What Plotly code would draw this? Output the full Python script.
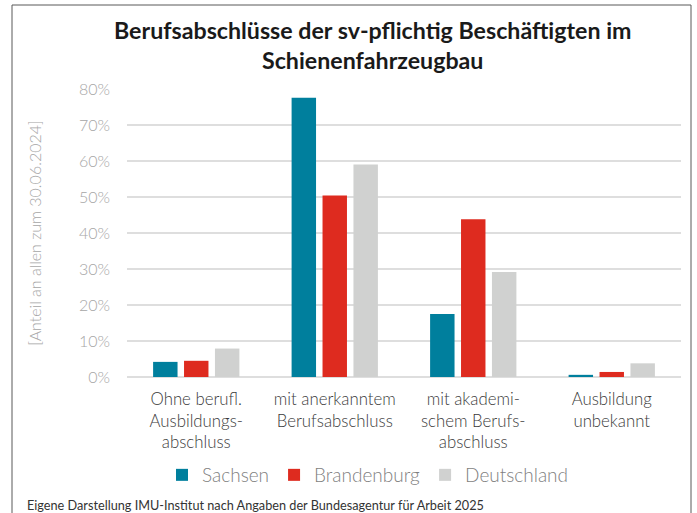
import plotly.graph_objects as go

categories = ["Ohne berufl.<br>Ausbildungs-<br>abschluss",
              "mit anerkanntem<br>Berufsabschluss",
              "mit akademi-<br>schem Berufs-<br>abschluss",
              "Ausbildung<br>unbekannt"]
sachsen = [4.2, 77.6, 17.5, 0.6]
brandenburg = [4.5, 50.4, 43.8, 1.4]
deutschland = [7.9, 59.0, 29.2, 3.8]
series_names = ["Sachsen", "Brandenburg", "Deutschland"]
series_colors = ["#007F9D", "#DE2B1F", "#D0D1D0"]
y_ticks = [0, 10, 20, 30, 40, 50, 60, 70, 80]
y_tick_labels = ["0%", "10%", "20%", "30%", "40%", "50%", "60%", "70%", "80%"]

FONT = "Lato"
fig = go.Figure()
for name, vals, col in zip(series_names, [sachsen, brandenburg, deutschland], series_colors):
    fig.add_trace(go.Bar(x=categories, y=vals, name=name,
                         marker=dict(color=col, line=dict(width=0))))

W, H = 697, 513
L, R, T, B = 127, 681, 89, 377
pw, ph = R - L, B - T

def px(x):
    return (x - L) / pw

def py(y):
    return (B - y) / ph

fig.update_layout(
    width=W, height=H,
    margin=dict(l=L, r=W - R, t=T, b=H - B, pad=0, autoexpand=False),
    paper_bgcolor="white", plot_bgcolor="white",
    barmode="group", bargap=0.33, bargroupgap=0.21,
    font=dict(family=FONT),
    xaxis=dict(tickfont=dict(size=16.8, color="#3a3a3a", family=FONT, weight=300),
               showgrid=False, showline=False, ticks="", ticklabelstandoff=10),
    yaxis=dict(range=[0, 80], tickvals=y_ticks, ticktext=y_tick_labels,
               tickfont=dict(size=16, color="#a6a6a6", family=FONT, weight=300),
               showgrid=True, gridcolor="#dedede", gridwidth=2,
               zeroline=True, zerolinecolor="#dedede", zerolinewidth=2,
               ticks="", ticklabelstandoff=16,
               title=dict(text="[Anteil an allen zum 30.06.2024]",
                          font=dict(size=16, color="#a6a6a6", family=FONT, weight=300),
                          standoff=33)),
    legend=dict(orientation="h", x=px(368), xanchor="center", y=py(475), yanchor="middle",
                font=dict(size=19, color="#7f7f7f", family=FONT, weight=300),
                itemwidth=30, traceorder="normal"),
    shapes=[dict(type="rect", xref="paper", yref="paper",
                 x0=px(12), x1=px(691), y0=py(525), y1=py(5),
                 line=dict(color="#595959", width=1), fillcolor="rgba(0,0,0,0)", layer="below")],
    annotations=[
        dict(text="<b>Berufsabschlüsse der sv-pflichtig Beschäftigten im<br>Schienenfahrzeugbau</b>",
             xref="paper", yref="paper", x=px(372), y=py(45), xanchor="center", yanchor="middle",
             showarrow=False, font=dict(size=23.2, color="#1a1a1a", family=FONT)),
        dict(text="Eigene Darstellung IMU-Institut nach Angaben der Bundesagentur für Arbeit 2025",
             xref="paper", yref="paper", x=px(25), y=py(505), xanchor="left", yanchor="middle",
             showarrow=False, font=dict(size=12.7, color="#333333", family=FONT))],
)

fig.write_html("out.html", post_script="document.body.style.margin='0px';",
               config={"displayModeBar": False})
